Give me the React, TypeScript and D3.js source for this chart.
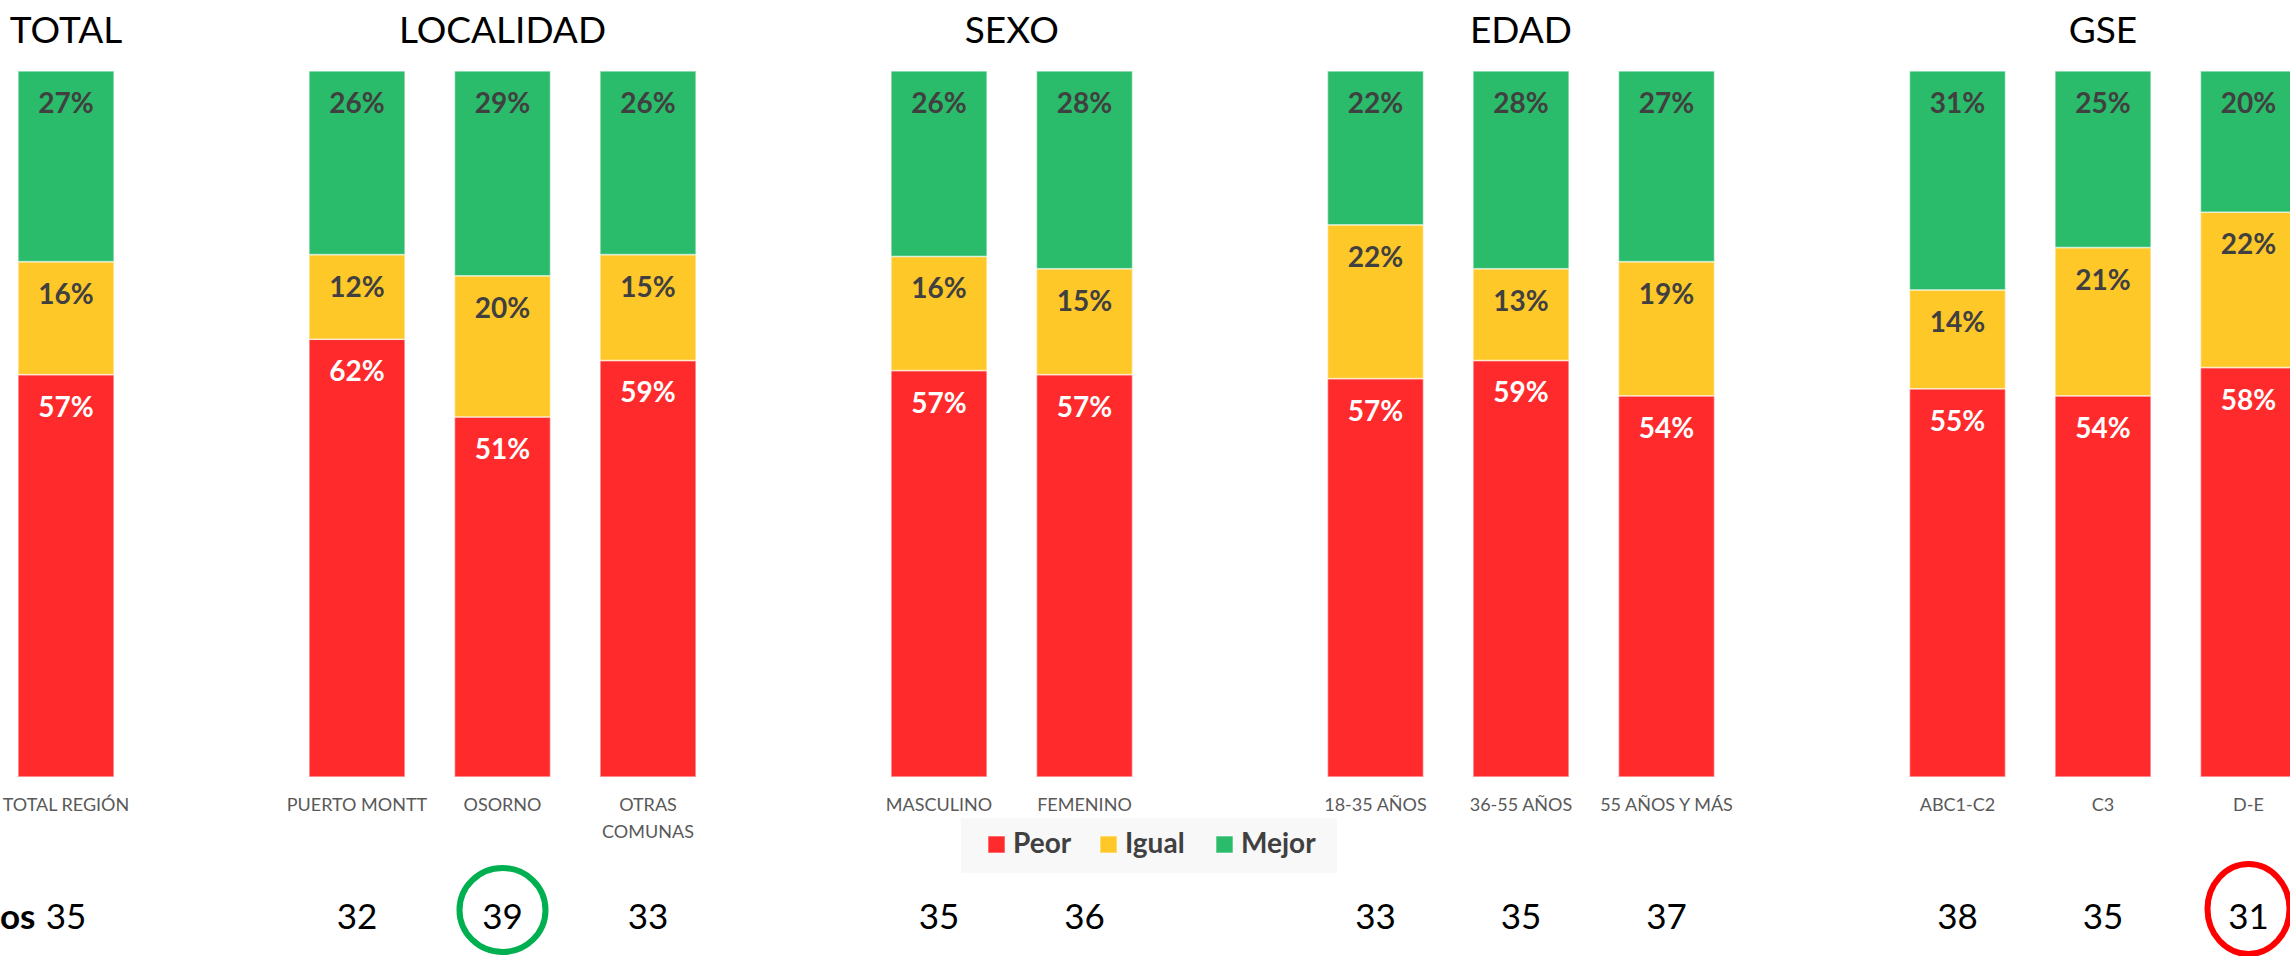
import React from 'react';
import * as d3 from 'd3';

const width = 2290;
const height = 956;

// categorias y grupos
const groups = ['TOTAL', 'LOCALIDAD', 'SEXO', 'EDAD', 'GSE'];
const categories = [
  'TOTAL REGIÓN', 'PUERTO MONTT', 'OSORNO', 'OTRAS COMUNAS',
  'MASCULINO', 'FEMENINO',
  '18-35 AÑOS', '36-55 AÑOS', '55 AÑOS Y MÁS',
  'ABC1-C2', 'C3', 'D-E',
];
const groupOf = [0, 1, 1, 1, 2, 2, 3, 3, 3, 4, 4, 4];

// porcentajes por serie
const peor = [57, 62, 51, 59, 57, 57, 57, 59, 54, 55, 54, 58];
const igual = [16, 12, 20, 15, 16, 15, 22, 13, 19, 14, 21, 22];
const mejor = [27, 26, 29, 26, 26, 28, 22, 28, 27, 31, 25, 20];

// puntaje de la fila inferior (el titulo de la fila queda cortado en el original)
const scores = [35, 32, 39, 33, 35, 36, 33, 35, 37, 38, 35, 31];
const rowTitle = 'os';

const keys = ['Peor', 'Igual', 'Mejor'];
const colors = { Peor: '#FF2A2B', Igual: '#FFC829', Mejor: '#2ABB6B' };
const labelColors = { Peor: '#FFFFFF', Igual: '#404040', Mejor: '#404040' };

// etiquetas que Excel parte en dos lineas
const wrapped: Record<string, string[]> = { 'OTRAS COMUNAS': ['OTRAS', 'COMUNAS'] };

const font = 'Lato, "Open Sans", sans-serif';

const rows = categories.map((c, i) => ({ name: c, Peor: peor[i], Igual: igual[i], Mejor: mejor[i] }));

// ranuras con un hueco entre grupos
const slots: string[] = [];
categories.forEach((c, i) => {
  if (i > 0 && groupOf[i] !== groupOf[i - 1]) slots.push(`gap-${i}`);
  slots.push(c);
});

const x = d3.scalePoint<string>().domain(slots).range([66, 2248.5]);
const barWidth = 96;
const y = d3.scaleLinear().domain([0, 1]).range([777, 71]);

const series = d3.stack<any>().keys(keys).offset(d3.stackOffsetExpand)(rows);

const best = categories[d3.maxIndex(scores)];
const worst = categories[d3.minIndex(scores)];

const App = () => {
  return (
    <div>
      <style>{'body{margin:0;background:#fff}'}</style>
      <svg width={width} height={height} style={{ display: 'block', fontFamily: font }}>
        <rect width={width} height={height} fill="#fff" />

        {/* titulos de grupo */}
        {groups.map((g, gi) => {
          const members = categories.filter((_, i) => groupOf[i] === gi);
          const cx = d3.mean(members, (m) => x(m)!)!;
          return (
            <text key={g} x={cx} y={43} textAnchor="middle" fontSize={37} fill="#000">{g}</text>
          );
        })}

        {/* barras apiladas */}
        {series.map((s) => (
          <g key={s.key}>
            {s.map((d, i) => (
              <rect
                key={i}
                x={x(categories[i])! - barWidth / 2}
                y={y(d[1])}
                width={barWidth}
                height={y(d[0]) - y(d[1])}
                fill={(colors as any)[s.key]}
                stroke="rgba(255,255,255,0.6)"
                strokeWidth={1.5}
              />
            ))}
            {s.map((d, i) => (
              <text
                key={`t${i}`}
                x={x(categories[i])}
                y={y(d[1]) + 42}
                textAnchor="middle"
                fontSize={28}
                fontWeight="bold"
                fill={(labelColors as any)[s.key]}
              >{`${(rows[i] as any)[s.key]}%`}</text>
            ))}
          </g>
        ))}

        {/* eje x */}
        {categories.map((c) => {
          const lines = wrapped[c] || [c];
          return (
            <text key={c} x={x(c)} y={811} textAnchor="middle" fontSize={18} fill="#595959">
              {lines.map((l, li) => (
                <tspan key={li} x={x(c)} dy={li === 0 ? 0 : 27}>{l}</tspan>
              ))}
            </text>
          );
        })}

        {/* leyenda */}
        <g transform="translate(961, 818)">
          <rect width={376} height={55} fill="#F8F8F8" />
          {keys.map((k, i) => {
            const offs = [27, 139, 255][i];
            return (
              <g key={k} transform={`translate(${offs}, 18)`}>
                <rect width={17} height={17} fill={(colors as any)[k]} stroke="rgba(255,255,255,0.6)" />
                <text x={25} y={17} fontSize={28} fontWeight="bold" fill="#404040">{k}</text>
              </g>
            );
          })}
        </g>

        {/* fila de puntajes */}
        <text x={0} y={929} textAnchor="start" fontSize={35} fontWeight="bold" fill="#000">{rowTitle}</text>
        {categories.map((c, i) => (
          <text key={c} x={x(c)} y={929} textAnchor="middle" fontSize={35} fill="#000">{scores[i]}</text>
        ))}
        <ellipse cx={x(best)} cy={910} rx={43} ry={42} fill="none" stroke="#00B050" strokeWidth={6} />
        <ellipse cx={x(worst)} cy={909} rx={41} ry={45} fill="none" stroke="#FF0000" strokeWidth={6} />
      </svg>
    </div>
  );
};

export default App;
